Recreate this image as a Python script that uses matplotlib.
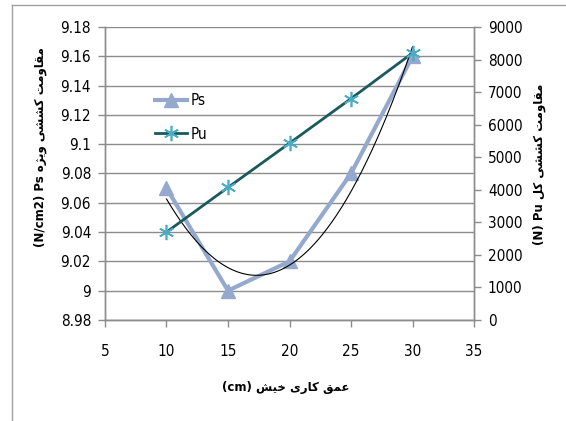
import numpy as np
import matplotlib
matplotlib.use("Agg")
import matplotlib.pyplot as plt
from matplotlib.lines import Line2D

# Data
depth_cm = [10, 15, 20, 25, 30]
ps_values = [9.07, 9.00, 9.02, 9.08, 9.16]
pu_values = [2700, 4070, 5430, 6800, 8200]

left_ticks = [8.98, 9.0, 9.02, 9.04, 9.06, 9.08, 9.1, 9.12, 9.14, 9.16, 9.18]
left_labels = ["8.98", "9", "9.02", "9.04", "9.06", "9.08", "9.1", "9.12", "9.14", "9.16", "9.18"]
right_ticks = [0, 1000, 2000, 3000, 4000, 5000, 6000, 7000, 8000, 9000]
x_ticks = [5, 10, 15, 20, 25, 30, 35]

# Persian words in presentation forms, visual (left-to-right) order
moqavemat = "\ufe96\ufee3\ufeed\ufe8e\ufed8\ufee3"
keshesi = "\ufbfd\ufeb8\ufeb8\ufb90"
vizhe = "\ufee9\ufb8b\ufbfe\ufeed"
kol = "\ufede\ufb90"
omq = "\ufed6\ufee4\ufecb"
kari = "\ufbfc\ufead\ufe8e\ufb90"
khish = "\ufeb6\ufbff\ufea7"

left_label = "(N/cm2) Ps " + vizhe + " " + keshesi + " " + moqavemat
right_label = "(N) Pu " + kol + " " + keshesi + " " + moqavemat
x_label = "(cm) " + khish + " " + kari + " " + omq

tick_font = ["DejaVu Sans"]
label_font = ["DejaVu Sans"]

ps_color = "#95A9CF"
pu_color = "#1A5A5C"
pu_marker = "#4BACC6"
grid_color = "#8C8C8C"

fig = plt.figure(figsize=(5.66, 4.21), dpi=100)
ax = fig.add_axes([0.1855, 0.240, 0.652, 0.696])
ax2 = ax.twinx()

# grid and axes styling
ax.set_xlim(5, 35)
ax.set_ylim(8.98, 9.18)
ax2.set_ylim(0, 9000)
ax.set_xticks(x_ticks)
ax.set_yticks(left_ticks)
ax.set_yticklabels(left_labels)
ax2.set_yticks(right_ticks)
ax.yaxis.grid(True, color=grid_color, linewidth=1)
ax.set_axisbelow(True)

for a in (ax, ax2):
    a.spines["top"].set_visible(False)
    for s in ("left", "right", "bottom"):
        a.spines[s].set_color(grid_color)
        a.spines[s].set_linewidth(1)
    a.tick_params(colors=grid_color, length=5, width=1, pad=5)
    for lbl in a.get_xticklabels() + a.get_yticklabels():
        lbl.set_color("black")
        lbl.set_family(tick_font)
        lbl.set_stretch("condensed")
        lbl.set_fontsize(11)
ax.tick_params(axis="x", pad=12)

# Ps series and its quadratic trend line
ps_line, = ax.plot(depth_cm, ps_values, color=ps_color, linewidth=3,
                   marker="^", markersize=10, markerfacecolor=ps_color,
                   markeredgecolor=ps_color, label="Ps", zorder=3)
coef = np.polyfit(depth_cm, ps_values, 2)
xs = np.linspace(depth_cm[0], depth_cm[-1], 200)
ax.plot(xs, np.polyval(coef, xs), color="black", linewidth=0.8, zorder=4)

# Pu series on secondary axis
pu_line, = ax2.plot(depth_cm, pu_values, color=pu_color, linewidth=2,
                    marker=(6, 2, 0), markersize=11, markeredgecolor=pu_marker,
                    markeredgewidth=1.2, label="Pu", zorder=3)

ax.legend([ps_line, pu_line], ["Ps", "Pu"], loc="upper left",
          bbox_to_anchor=(0.115, 0.80), frameon=False, handlelength=2.1,
          handletextpad=0.2, labelspacing=1.2, borderpad=0,
          prop={"family": tick_font, "stretch": "condensed", "size": 11})
ax2.set_zorder(ax.get_zorder() + 1)
ax2.patch.set_visible(False)

# axis titles
fig.text(0.072, 0.65, left_label, rotation=90, ha="center", va="center",
         family=label_font, fontsize=8.5, fontweight="bold")
fig.text(0.953, 0.61, right_label, rotation=90, ha="center", va="center",
         family=label_font, fontsize=8.5, fontweight="bold")
fig.text(0.505, 0.080, x_label, ha="center", va="center",
         family=label_font, fontsize=8.5, fontweight="bold")

# chart area border (top and left edges visible)
fig.add_artist(Line2D([0.021, 1.0], [0.988, 0.988], transform=fig.transFigure,
                      color="#A0A0A0", linewidth=1))
fig.add_artist(Line2D([0.021, 0.021], [0.0, 0.988], transform=fig.transFigure,
                      color="#A0A0A0", linewidth=1))

fig.savefig("out.png", dpi=100)
